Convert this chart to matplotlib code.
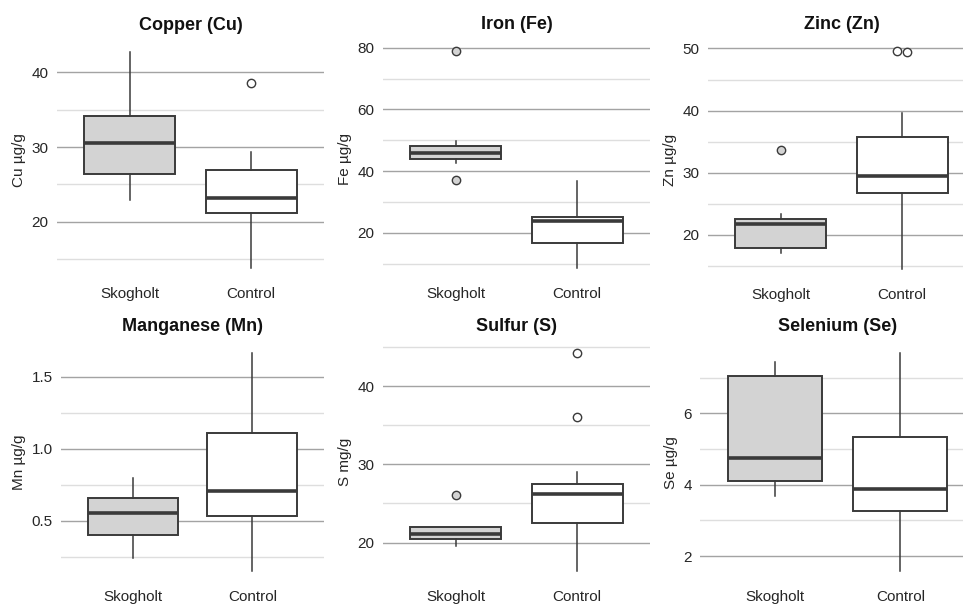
import matplotlib

matplotlib.use("Agg")
import matplotlib.pyplot as plt
from matplotlib.ticker import AutoMinorLocator, FixedLocator

# groups shown on every panel
groups = ["Skogholt", "Control"]
group_fill = ["#d3d3d3", "#ffffff"]

titles = ["Copper (Cu)", "Iron (Fe)", "Zinc (Zn)",
          "Manganese (Mn)", "Sulfur (S)", "Selenium (Se)"]
ylabels = ["Cu µg/g", "Fe µg/g", "Zn µg/g", "Mn µg/g", "S mg/g", "Se µg/g"]
yticks = [[20, 30, 40], [20, 40, 60, 80], [20, 30, 40, 50],
          [0.5, 1.0, 1.5], [20, 30, 40], [2, 4, 6]]
ytick_labels = [["20", "30", "40"], ["20", "40", "60", "80"],
                ["20", "30", "40", "50"], ["0.5", "1.0", "1.5"],
                ["20", "30", "40"], ["2", "4", "6"]]

# box statistics, (Skogholt, Control) per element
whislo = [[22.9, 13.9], [42.5, 8.5], [17.1, 14.5],
          [0.24, 0.15], [19.6, 16.4], [3.68, 1.58]]
q1 = [[26.4, 21.2], [43.8, 16.6], [17.9, 26.7],
      [0.40, 0.535], [20.5, 22.55], [4.11, 3.26]]
med = [[30.6, 23.2], [45.7, 23.8], [21.7, 29.5],
       [0.556, 0.707], [21.07, 26.2], [4.76, 3.87]]
q3 = [[34.2, 26.9], [48.1, 25.2], [22.6, 35.7],
      [0.656, 1.11], [22.04, 27.45], [7.05, 5.34]]
whishi = [[42.7, 29.4], [49.8, 36.9], [23.3, 39.6],
          [0.80, 1.663], [22.04, 29.06], [7.43, 7.68]]
fliers = [[[], [38.6]], [[79.0, 37.1], []], [[33.7], [49.6, 49.4]],
          [[], []], [[26.1], [44.2, 36.1]], [[], []]]

# panel rectangles in pixels: left, top, right, bottom (right column runs off the edge)
W, H = 963, 604
panels_px = [(57, 41, 324, 278.5), (383, 40, 650, 279), (708, 40, 975, 280),
             (61, 342.5, 324, 582), (383, 342.5, 650, 581.6), (700, 342.5, 975.5, 582)]

EDGE = "#3a3a3a"
TEXT = "#262626"

plt.rcParams["font.family"] = ["Liberation Sans", "DejaVu Sans"]

fig = plt.figure(figsize=(W / 100, H / 100), dpi=100)

for i, (l, t, r, b) in enumerate(panels_px):
    ax = fig.add_axes([l / W, 1 - b / H, (r - l) / W, (b - t) / H])

    stats = []
    for g in range(len(groups)):
        stats.append(dict(med=med[i][g], q1=q1[i][g], q3=q3[i][g],
                          whislo=whislo[i][g], whishi=whishi[i][g],
                          fliers=[], label=groups[g]))
    positions = list(range(1, len(groups) + 1))
    art = ax.bxp(
        stats, positions=positions, widths=0.75, showcaps=False,
        showfliers=False, patch_artist=True,
        boxprops=dict(edgecolor=EDGE, linewidth=1.4),
        medianprops=dict(color=EDGE, linewidth=2.6, solid_capstyle="butt"),
        whiskerprops=dict(color=EDGE, linewidth=1.1),
        zorder=3,
    )
    for patch, fc in zip(art["boxes"], group_fill):
        patch.set_facecolor(fc)

    # outliers, nudged sideways when two sit almost on top of each other
    lo, hi = None, None
    for g, pos in enumerate(positions):
        vals = fliers[i][g]
        span = max(whishi[i]) - min(whislo[i])
        offs = [0.0] * len(vals)
        for a in range(len(vals)):
            for c in range(a + 1, len(vals)):
                if abs(vals[a] - vals[c]) < 0.03 * span:
                    offs[a], offs[c] = -0.04, 0.04
        if vals:
            ax.scatter([pos + o for o in offs], vals, s=36, facecolor=group_fill[g],
                       edgecolor=EDGE, linewidth=1.0, zorder=4)
    allv = whislo[i] + whishi[i] + [v for fl in fliers[i] for v in fl]
    lo, hi = min(allv), max(allv)
    pad = 0.05 * (hi - lo)
    ax.set_ylim(lo - pad, hi + pad)
    ax.set_xlim(0.4, len(groups) + 0.6)

    ax.yaxis.set_major_locator(FixedLocator(yticks[i]))
    ax.set_yticklabels(ytick_labels[i])
    ax.yaxis.set_minor_locator(AutoMinorLocator(2))
    ax.set_xticks(positions, groups)

    ax.yaxis.grid(True, which="major", color="#a3a3a3", linewidth=1.0)
    ax.yaxis.grid(True, which="minor", color="#dedede", linewidth=1.0)
    ax.xaxis.grid(False)
    ax.set_axisbelow(True)
    for s in ax.spines.values():
        s.set_visible(False)
    ax.tick_params(which="both", length=0, pad=6, labelsize=11, labelcolor=TEXT)

    ax.set_ylabel(ylabels[i], fontsize=11, color=TEXT, labelpad=4)
    ax.set_title(titles[i], fontsize=13, fontweight="bold", color="#111111", pad=8)

fig.savefig("out.png", dpi=100)
